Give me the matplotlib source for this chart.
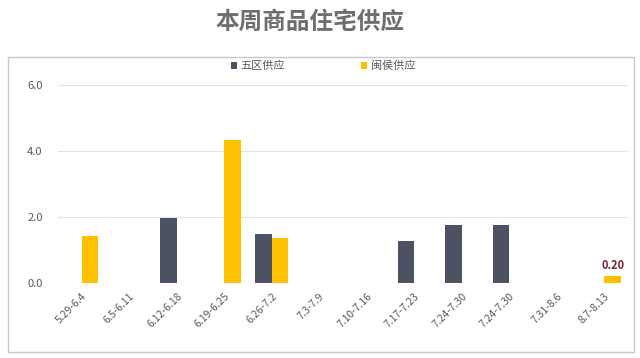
import matplotlib
matplotlib.use("Agg")
import matplotlib.pyplot as plt
from matplotlib.patches import Rectangle
import numpy as np

plt.rcParams['font.family'] = ['Noto Sans CJK SC', 'DejaVu Sans']

categories = ["5.29-6.4", "6.5-6.11", "6.12-6.18", "6.19-6.25", "6.26-7.2", "7.3-7.9",
              "7.10-7.16", "7.17-7.23", "7.24-7.30", "7.24-7.30", "7.31-8.6", "8.7-8.13"]
wuqu = [0, 0, 1.98, 0, 1.49, 0, 0, 1.28, 1.77, 1.77, 0, 0]
minhou = [1.43, 0, 0, 4.32, 1.37, 0, 0, 0, 0, 0, 0, 0.20]
series_names = ["五区供应", "闽侯供应"]
yticks = [0.0, 2.0, 4.0, 6.0]

W, H = 640, 358
fig = plt.figure(figsize=(W / 100, H / 100), dpi=100)
fig.patch.set_facecolor("white")

# outer box
fig.patches.append(Rectangle((8 / W, 1 - 352 / H), 626 / W, (352 - 57) / H,
                             transform=fig.transFigure, fill=False,
                             edgecolor="#c8c8c8", linewidth=1.0))

fig.text(310 / W, 1 - 22 / H, "本周商品住宅供应", ha="center", va="center",
         fontsize=17, fontweight="bold", color="#6e6e6e")

ax = fig.add_axes([58 / W, 1 - 283 / H, 570 / W, (283 - 85) / H])
x = np.arange(len(categories))
bw = 0.35
dark = "#4d5263"
yellow = "#ffc000"
b1 = ax.bar(x - bw / 2, wuqu, bw, color=dark, label=series_names[0])
b2 = ax.bar(x + bw / 2, minhou, bw, color=yellow, label=series_names[1])

ax.set_xlim(-0.5, len(categories) - 0.5)
ax.set_ylim(0, 6)
ax.set_yticks(yticks)
ax.set_yticklabels([f"{v:.1f}" for v in yticks], fontsize=8, color="#595959")
ax.set_xticks(x)
ax.set_xticklabels(categories, rotation=45, ha="right", rotation_mode="anchor",
                   fontsize=7.5, color="#595959")
ax.tick_params(axis="both", length=0, pad=6)
ax.tick_params(axis="y", pad=11)
for s in ax.spines.values():
    s.set_visible(False)
ax.grid(axis="y", color="#e3e3e3", linewidth=0.8)
ax.set_axisbelow(True)
ax.axhline(0, color="#d9d9d9", linewidth=0.8)

ax.annotate(f"{minhou[-1]:.2f}", (x[-1] + bw / 2, minhou[-1]), xytext=(0, 3),
            textcoords="offset points", ha="center", va="bottom",
            fontsize=8, fontweight="bold", color="#7a2232")

leg = fig.legend(handles=[b1, b2], loc="center", bbox_to_anchor=(323 / W, 1 - 66 / H),
                 ncol=2, frameon=False, fontsize=8, handlelength=0.6, handleheight=0.6,
                 columnspacing=6.8, handletextpad=0.3, labelcolor="#595959")

fig.savefig("out.png", dpi=100)
